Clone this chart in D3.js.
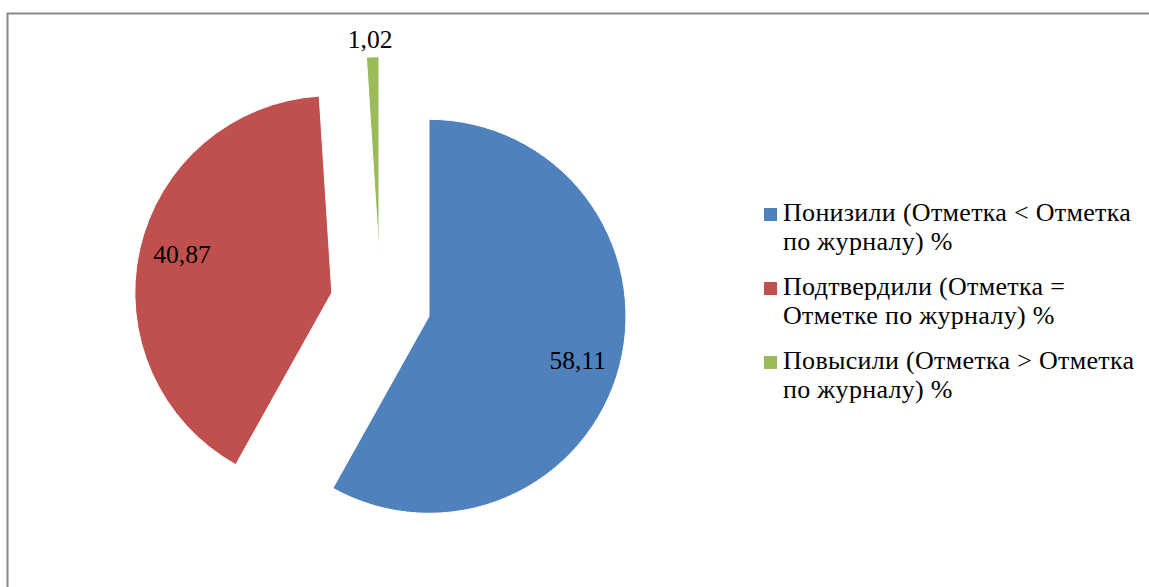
<!DOCTYPE html>
<html>
<head>
<meta charset="utf-8">
<script src="https://cdn.jsdelivr.net/npm/d3@7"></script>
<style>
  body { margin: 0; background: #fff; }
  svg { display: block; }
  text { font-family: "Liberation Serif", "Times New Roman", serif; }
</style>
</head>
<body>
<svg id="drawing_region"></svg>
<script>
var categories = [
    "Понизили (Отметка < Отметка|по журналу) %",
    "Подтвердили (Отметка =|Отметке по журналу) %",
    "Повысили (Отметка > Отметка|по журналу) %"
];
var values = [58.11, 40.87, 1.02];
var value_labels = ["58,11", "40,87", "1,02"];
var colors = ["#4F81BD", "#C0504D", "#9BBB59"];

var width = 1149, height = 587;
var cx = 380.6, cy = 303.7, radius = 197, explode = 50;

var svg = d3.select('#drawing_region')
    .attr('width', width)
    .attr('height', height);

// chart area border (only top and left visible)
svg.append('rect')
    .attr('x', 7.5).attr('y', 13.5)
    .attr('width', width + 20).attr('height', height + 20)
    .attr('fill', 'none')
    .attr('stroke', '#888')
    .attr('stroke-width', 2);

var data = values.map((v, i) => ({ value: v, label: value_labels[i], color: colors[i] }));

var pie = d3.pie().sort(null).value(d => d.value);
var arc = d3.arc().innerRadius(0).outerRadius(radius);

var arcs = pie(data);

var chart = svg.append('g')
    .attr('transform', `translate(${cx}, ${cy})`);

// every slice pulled out from the centre
var slice = chart.selectAll('g.slice').data(arcs).join('g')
    .attr('class', 'slice')
    .attr('transform', d => {
        var a = (d.startAngle + d.endAngle) / 2;
        return `translate(${explode * Math.sin(a)}, ${-explode * Math.cos(a)})`;
    });

slice.append('path')
    .attr('d', arc)
    .attr('fill', d => d.data.color)
    .attr('stroke', '#fff')
    .attr('stroke-width', 1);

// labels
var labelArc = d3.arc().innerRadius(radius * 0.78).outerRadius(radius * 0.78);

slice.filter((d, i) => i < 2).append('text')
    .attr('x', d => labelArc.centroid(d)[0])
    .attr('y', (d, i) => labelArc.centroid(d)[1] + (i == 0 ? 5 : -5))
    .attr('dy', '0.35em')
    .attr('text-anchor', 'middle')
    .attr('font-size', 25.5)
    .attr('fill', '#000')
    .text(d => d.data.label);

slice.filter((d, i) => i === 2).append('text')
    .attr('x', d => (radius + 18) * Math.sin((d.startAngle + d.endAngle) / 2) - 2)
    .attr('y', d => -(radius + 18) * Math.cos((d.startAngle + d.endAngle) / 2))
    .attr('dy', '0.35em')
    .attr('text-anchor', 'middle')
    .attr('font-size', 25.5)
    .attr('fill', '#000')
    .text(d => d.data.label);

// legend
var legend = svg.append('g')
    .attr('transform', 'translate(764, 221)');

var item = legend.selectAll('g').data(categories).join('g')
    .attr('transform', (d, i) => `translate(0, ${i * 74})`);

item.append('rect')
    .attr('x', 0).attr('y', -13)
    .attr('width', 13).attr('height', 13)
    .attr('fill', (d, i) => colors[i]);

item.append('text')
    .attr('font-size', 26)
    .attr('letter-spacing', 0.3)
    .attr('fill', '#000')
    .selectAll('tspan').data(d => d.split('|')).join('tspan')
    .attr('x', 19)
    .attr('y', (d, i) => i * 29)
    .text(d => d);
</script>
</body>
</html>
